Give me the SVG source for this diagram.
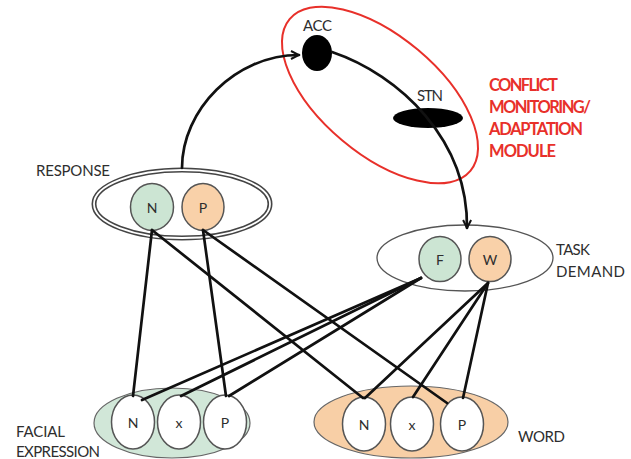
<svg xmlns="http://www.w3.org/2000/svg" width="631" height="459" viewBox="0 0 631 459">
<defs>
<style>
text{font-family:"Lato","Liberation Sans",sans-serif;fill:#2e2e2e}
.lbl{font-size:15px}
.nl{font-size:14px;text-anchor:middle;dominant-baseline:central}
.red{fill:#e8302a;font-weight:bold;font-size:16.5px}
.c{stroke:#555;stroke-width:1.5}
.g{fill:#cce5d3}
.o{fill:#f9d1a9}
.w{fill:#fff}
.con{stroke:#111;stroke-width:2.7;fill:none;stroke-linecap:round}
</style>
<marker id="arr" viewBox="0 0 10 10" refX="9" refY="5" markerWidth="10" markerHeight="10" markerUnits="userSpaceOnUse" orient="auto">
<path d="M1,1 L9,5 L1,9" fill="none" stroke="#111" stroke-width="2"/>
</marker>
</defs>
<rect width="631" height="459" fill="#fff"/>

<g id="conflict-module">
<ellipse cx="380" cy="95" rx="118" ry="59" transform="rotate(40 380 95)" fill="none" stroke="#e8302a" stroke-width="2"/>
<text class="red" x="489" y="91" textLength="69">CONFLICT</text>
<text class="red" x="489" y="113" textLength="102">MONITORING/</text>
<text class="red" x="489" y="135" textLength="94">ADAPTATION</text>
<text class="red" x="489" y="157" textLength="67">MODULE</text>
</g>

<g id="acc">
<ellipse cx="317" cy="53" rx="15" ry="18" fill="#000"/>
<text class="lbl" x="303" y="31" textLength="29">ACC</text>
</g>

<g id="stn">
<ellipse cx="428" cy="118" rx="35" ry="10" fill="#000"/>
<text class="lbl" x="417" y="101" textLength="26">STN</text>
</g>

<g id="response">
<ellipse cx="182" cy="204" rx="88" ry="34" fill="#fff" stroke="#444" stroke-width="5"/>
<ellipse cx="182" cy="204" rx="88" ry="34" fill="none" stroke="#fff" stroke-width="1.8"/>
<text class="lbl" x="36" y="176" textLength="74">RESPONSE</text>
<g id="response-n"><ellipse class="c g" cx="152" cy="207" rx="21.5" ry="23.5"/><text class="nl" x="152" y="207">N</text></g>
<g id="response-p"><ellipse class="c o" cx="203" cy="207" rx="21" ry="23.5"/><text class="nl" x="203" y="207">P</text></g>
</g>

<g id="task-demand">
<ellipse cx="465" cy="258" rx="88" ry="33" fill="#fff" stroke="#555" stroke-width="1.3"/>
<text class="lbl" x="556" y="255" textLength="34">TASK</text>
<text class="lbl" x="556" y="277" textLength="69">DEMAND</text>
<g id="task-f"><ellipse class="c g" cx="440" cy="259" rx="21" ry="22.5"/><text class="nl" x="440" y="259">F</text></g>
<g id="task-w"><ellipse class="c o" cx="490" cy="259" rx="21" ry="22.5"/><text class="nl" x="490" y="259">W</text></g>
</g>

<g id="facial-expression">
<ellipse cx="172" cy="423" rx="78" ry="35" fill="#d1e7d8" stroke="#666" stroke-width="1.2"/>
<text class="lbl" x="16" y="437" textLength="49">FACIAL</text>
<text class="lbl" x="16" y="457" textLength="84">EXPRESSION</text>
<g id="facial-n"><ellipse class="c w" cx="133" cy="422" rx="21.5" ry="27"/><text class="nl" x="133" y="422">N</text></g>
<g id="facial-x"><ellipse class="c w" cx="179" cy="422" rx="21.5" ry="27"/><text class="nl" x="179" y="422">x</text></g>
<g id="facial-p"><ellipse class="c w" cx="225" cy="422" rx="21.5" ry="27"/><text class="nl" x="225" y="422">P</text></g>
</g>

<g id="word">
<ellipse cx="411" cy="422" rx="97" ry="36" fill="#f8cfa6" stroke="#666" stroke-width="1.2"/>
<text class="lbl" x="518" y="442" textLength="47">WORD</text>
<g id="word-n"><ellipse class="c w" cx="364" cy="424" rx="21.5" ry="27"/><text class="nl" x="364" y="424">N</text></g>
<g id="word-x"><ellipse class="c w" cx="412" cy="424" rx="21.5" ry="27"/><text class="nl" x="412" y="424">x</text></g>
<g id="word-p"><ellipse class="c w" cx="462" cy="424" rx="21.5" ry="27"/><text class="nl" x="462" y="424">P</text></g>
</g>

<g id="connectors">
<path class="con" d="M182,168 C182,110 235,55 299,55" marker-end="url(#arr)"/>
<path class="con" d="M332,52 C400,75 468,140 467,228" marker-end="url(#arr)"/>
<line class="con" x1="152" y1="230" x2="133" y2="396"/>
<line class="con" x1="152" y1="230" x2="363" y2="398"/>
<line class="con" x1="203" y1="230" x2="226" y2="396"/>
<line class="con" x1="203" y1="230" x2="447" y2="403"/>
<line class="con" x1="421" y1="278" x2="142" y2="400"/>
<line class="con" x1="421" y1="278" x2="181" y2="396"/>
<line class="con" x1="421" y1="278" x2="229" y2="396"/>
<line class="con" x1="488" y1="283" x2="365" y2="398"/>
<line class="con" x1="488" y1="283" x2="413" y2="397"/>
<line class="con" x1="488" y1="283" x2="463" y2="398"/>
</g>
</svg>
